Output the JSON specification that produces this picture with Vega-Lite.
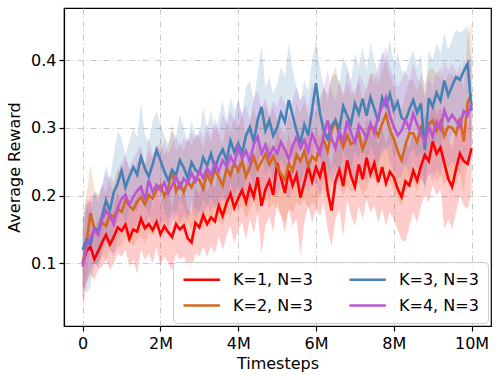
{
"$schema":"https://vega.github.io/schema/vega-lite/v6.json",
"width":427,"height":318,
"autosize":{"type":"none"},
"padding":{"left":64,"top":8,"right":8,"bottom":54},
"background":"white",
"config":{"view":{"stroke":"#000000","strokeWidth":1.2},"font":"DejaVu Sans"},
"data":{"values":[
{"s":"K=1, N=3","x":0,"y":0.100,"lo":0.035,"hi":0.125},
{"s":"K=1, N=3","x":0.1,"y":0.118,"lo":0.070,"hi":0.180},
{"s":"K=1, N=3","x":0.2,"y":0.125,"lo":0.085,"hi":0.200},
{"s":"K=1, N=3","x":0.3,"y":0.106,"lo":0.075,"hi":0.150},
{"s":"K=1, N=3","x":0.4,"y":0.118,"lo":0.090,"hi":0.165},
{"s":"K=1, N=3","x":0.5,"y":0.131,"lo":0.095,"hi":0.170},
{"s":"K=1, N=3","x":0.6,"y":0.142,"lo":0.105,"hi":0.200},
{"s":"K=1, N=3","x":0.7,"y":0.128,"lo":0.090,"hi":0.165},
{"s":"K=1, N=3","x":0.8,"y":0.139,"lo":0.100,"hi":0.185},
{"s":"K=1, N=3","x":0.9,"y":0.153,"lo":0.115,"hi":0.205},
{"s":"K=1, N=3","x":1.0,"y":0.148,"lo":0.110,"hi":0.180},
{"s":"K=1, N=3","x":1.1,"y":0.157,"lo":0.120,"hi":0.210},
{"s":"K=1, N=3","x":1.2,"y":0.136,"lo":0.095,"hi":0.175},
{"s":"K=1, N=3","x":1.3,"y":0.150,"lo":0.105,"hi":0.190},
{"s":"K=1, N=3","x":1.4,"y":0.147,"lo":0.085,"hi":0.200},
{"s":"K=1, N=3","x":1.5,"y":0.166,"lo":0.120,"hi":0.215},
{"s":"K=1, N=3","x":1.6,"y":0.152,"lo":0.105,"hi":0.195},
{"s":"K=1, N=3","x":1.7,"y":0.158,"lo":0.115,"hi":0.210},
{"s":"K=1, N=3","x":1.8,"y":0.149,"lo":0.100,"hi":0.185},
{"s":"K=1, N=3","x":1.9,"y":0.161,"lo":0.125,"hi":0.215},
{"s":"K=1, N=3","x":2.0,"y":0.143,"lo":0.095,"hi":0.190},
{"s":"K=1, N=3","x":2.1,"y":0.155,"lo":0.110,"hi":0.200},
{"s":"K=1, N=3","x":2.2,"y":0.146,"lo":0.100,"hi":0.205},
{"s":"K=1, N=3","x":2.3,"y":0.139,"lo":0.090,"hi":0.180},
{"s":"K=1, N=3","x":2.4,"y":0.158,"lo":0.115,"hi":0.215},
{"s":"K=1, N=3","x":2.5,"y":0.150,"lo":0.105,"hi":0.195},
{"s":"K=1, N=3","x":2.6,"y":0.156,"lo":0.110,"hi":0.210},
{"s":"K=1, N=3","x":2.7,"y":0.137,"lo":0.095,"hi":0.180},
{"s":"K=1, N=3","x":2.8,"y":0.131,"lo":0.085,"hi":0.175},
{"s":"K=1, N=3","x":2.9,"y":0.160,"lo":0.115,"hi":0.215},
{"s":"K=1, N=3","x":3.0,"y":0.153,"lo":0.110,"hi":0.200},
{"s":"K=1, N=3","x":3.1,"y":0.171,"lo":0.125,"hi":0.225},
{"s":"K=1, N=3","x":3.2,"y":0.158,"lo":0.110,"hi":0.205},
{"s":"K=1, N=3","x":3.3,"y":0.168,"lo":0.125,"hi":0.220},
{"s":"K=1, N=3","x":3.4,"y":0.162,"lo":0.115,"hi":0.210},
{"s":"K=1, N=3","x":3.5,"y":0.185,"lo":0.140,"hi":0.240},
{"s":"K=1, N=3","x":3.6,"y":0.170,"lo":0.120,"hi":0.220},
{"s":"K=1, N=3","x":3.7,"y":0.189,"lo":0.140,"hi":0.245},
{"s":"K=1, N=3","x":3.8,"y":0.203,"lo":0.155,"hi":0.255},
{"s":"K=1, N=3","x":3.9,"y":0.182,"lo":0.130,"hi":0.230},
{"s":"K=1, N=3","x":4.0,"y":0.196,"lo":0.150,"hi":0.250},
{"s":"K=1, N=3","x":4.1,"y":0.208,"lo":0.160,"hi":0.265},
{"s":"K=1, N=3","x":4.2,"y":0.190,"lo":0.135,"hi":0.240},
{"s":"K=1, N=3","x":4.3,"y":0.214,"lo":0.165,"hi":0.270},
{"s":"K=1, N=3","x":4.4,"y":0.198,"lo":0.145,"hi":0.245},
{"s":"K=1, N=3","x":4.5,"y":0.227,"lo":0.175,"hi":0.285},
{"s":"K=1, N=3","x":4.6,"y":0.185,"lo":0.115,"hi":0.240},
{"s":"K=1, N=3","x":4.7,"y":0.209,"lo":0.155,"hi":0.260},
{"s":"K=1, N=3","x":4.8,"y":0.222,"lo":0.170,"hi":0.280},
{"s":"K=1, N=3","x":4.9,"y":0.201,"lo":0.145,"hi":0.255},
{"s":"K=1, N=3","x":5.0,"y":0.248,"lo":0.190,"hi":0.300},
{"s":"K=1, N=3","x":5.1,"y":0.226,"lo":0.170,"hi":0.280},
{"s":"K=1, N=3","x":5.2,"y":0.204,"lo":0.145,"hi":0.260},
{"s":"K=1, N=3","x":5.3,"y":0.237,"lo":0.180,"hi":0.290},
{"s":"K=1, N=3","x":5.4,"y":0.215,"lo":0.155,"hi":0.270},
{"s":"K=1, N=3","x":5.5,"y":0.231,"lo":0.165,"hi":0.285},
{"s":"K=1, N=3","x":5.6,"y":0.197,"lo":0.112,"hi":0.250},
{"s":"K=1, N=3","x":5.7,"y":0.219,"lo":0.160,"hi":0.275},
{"s":"K=1, N=3","x":5.8,"y":0.243,"lo":0.185,"hi":0.300},
{"s":"K=1, N=3","x":5.9,"y":0.221,"lo":0.160,"hi":0.275},
{"s":"K=1, N=3","x":6.0,"y":0.242,"lo":0.180,"hi":0.300},
{"s":"K=1, N=3","x":6.1,"y":0.228,"lo":0.170,"hi":0.285},
{"s":"K=1, N=3","x":6.2,"y":0.250,"lo":0.190,"hi":0.310},
{"s":"K=1, N=3","x":6.3,"y":0.206,"lo":0.150,"hi":0.260},
{"s":"K=1, N=3","x":6.4,"y":0.178,"lo":0.125,"hi":0.240},
{"s":"K=1, N=3","x":6.5,"y":0.221,"lo":0.165,"hi":0.280},
{"s":"K=1, N=3","x":6.6,"y":0.238,"lo":0.180,"hi":0.295},
{"s":"K=1, N=3","x":6.7,"y":0.214,"lo":0.139,"hi":0.270},
{"s":"K=1, N=3","x":6.8,"y":0.252,"lo":0.195,"hi":0.310},
{"s":"K=1, N=3","x":6.9,"y":0.229,"lo":0.170,"hi":0.285},
{"s":"K=1, N=3","x":7.0,"y":0.213,"lo":0.155,"hi":0.270},
{"s":"K=1, N=3","x":7.1,"y":0.246,"lo":0.185,"hi":0.305},
{"s":"K=1, N=3","x":7.2,"y":0.224,"lo":0.165,"hi":0.280},
{"s":"K=1, N=3","x":7.3,"y":0.256,"lo":0.195,"hi":0.315},
{"s":"K=1, N=3","x":7.4,"y":0.232,"lo":0.175,"hi":0.290},
{"s":"K=1, N=3","x":7.5,"y":0.248,"lo":0.185,"hi":0.305},
{"s":"K=1, N=3","x":7.6,"y":0.220,"lo":0.160,"hi":0.275},
{"s":"K=1, N=3","x":7.7,"y":0.242,"lo":0.180,"hi":0.300},
{"s":"K=1, N=3","x":7.8,"y":0.218,"lo":0.155,"hi":0.275},
{"s":"K=1, N=3","x":7.9,"y":0.235,"lo":0.175,"hi":0.295},
{"s":"K=1, N=3","x":8.0,"y":0.227,"lo":0.165,"hi":0.285},
{"s":"K=1, N=3","x":8.1,"y":0.210,"lo":0.150,"hi":0.265},
{"s":"K=1, N=3","x":8.2,"y":0.198,"lo":0.135,"hi":0.255},
{"s":"K=1, N=3","x":8.3,"y":0.221,"lo":0.131,"hi":0.280},
{"s":"K=1, N=3","x":8.4,"y":0.215,"lo":0.155,"hi":0.270},
{"s":"K=1, N=3","x":8.5,"y":0.237,"lo":0.175,"hi":0.295},
{"s":"K=1, N=3","x":8.6,"y":0.222,"lo":0.160,"hi":0.280},
{"s":"K=1, N=3","x":8.7,"y":0.244,"lo":0.185,"hi":0.300},
{"s":"K=1, N=3","x":8.8,"y":0.260,"lo":0.200,"hi":0.320},
{"s":"K=1, N=3","x":8.9,"y":0.251,"lo":0.190,"hi":0.310},
{"s":"K=1, N=3","x":9.0,"y":0.280,"lo":0.215,"hi":0.340},
{"s":"K=1, N=3","x":9.1,"y":0.262,"lo":0.200,"hi":0.320},
{"s":"K=1, N=3","x":9.2,"y":0.271,"lo":0.210,"hi":0.330},
{"s":"K=1, N=3","x":9.3,"y":0.248,"lo":0.150,"hi":0.305},
{"s":"K=1, N=3","x":9.4,"y":0.225,"lo":0.165,"hi":0.285},
{"s":"K=1, N=3","x":9.5,"y":0.213,"lo":0.150,"hi":0.270},
{"s":"K=1, N=3","x":9.6,"y":0.239,"lo":0.175,"hi":0.300},
{"s":"K=1, N=3","x":9.7,"y":0.262,"lo":0.200,"hi":0.320},
{"s":"K=1, N=3","x":9.8,"y":0.251,"lo":0.185,"hi":0.310},
{"s":"K=1, N=3","x":9.9,"y":0.247,"lo":0.180,"hi":0.305},
{"s":"K=1, N=3","x":10.0,"y":0.270,"lo":0.205,"hi":0.330},
{"s":"K=2, N=3","x":0,"y":0.100,"lo":0.050,"hi":0.165},
{"s":"K=2, N=3","x":0.1,"y":0.130,"lo":0.080,"hi":0.200},
{"s":"K=2, N=3","x":0.2,"y":0.174,"lo":0.120,"hi":0.245},
{"s":"K=2, N=3","x":0.3,"y":0.152,"lo":0.100,"hi":0.210},
{"s":"K=2, N=3","x":0.4,"y":0.148,"lo":0.100,"hi":0.200},
{"s":"K=2, N=3","x":0.5,"y":0.160,"lo":0.110,"hi":0.215},
{"s":"K=2, N=3","x":0.6,"y":0.155,"lo":0.105,"hi":0.205},
{"s":"K=2, N=3","x":0.7,"y":0.172,"lo":0.120,"hi":0.230},
{"s":"K=2, N=3","x":0.8,"y":0.168,"lo":0.115,"hi":0.220},
{"s":"K=2, N=3","x":0.9,"y":0.180,"lo":0.125,"hi":0.240},
{"s":"K=2, N=3","x":1.0,"y":0.176,"lo":0.125,"hi":0.230},
{"s":"K=2, N=3","x":1.1,"y":0.193,"lo":0.140,"hi":0.255},
{"s":"K=2, N=3","x":1.2,"y":0.185,"lo":0.130,"hi":0.240},
{"s":"K=2, N=3","x":1.3,"y":0.179,"lo":0.125,"hi":0.235},
{"s":"K=2, N=3","x":1.4,"y":0.191,"lo":0.135,"hi":0.250},
{"s":"K=2, N=3","x":1.5,"y":0.198,"lo":0.140,"hi":0.260},
{"s":"K=2, N=3","x":1.6,"y":0.187,"lo":0.130,"hi":0.245},
{"s":"K=2, N=3","x":1.7,"y":0.201,"lo":0.145,"hi":0.265},
{"s":"K=2, N=3","x":1.8,"y":0.196,"lo":0.140,"hi":0.255},
{"s":"K=2, N=3","x":1.9,"y":0.208,"lo":0.150,"hi":0.270},
{"s":"K=2, N=3","x":2.0,"y":0.215,"lo":0.155,"hi":0.280},
{"s":"K=2, N=3","x":2.1,"y":0.199,"lo":0.140,"hi":0.260},
{"s":"K=2, N=3","x":2.2,"y":0.212,"lo":0.155,"hi":0.275},
{"s":"K=2, N=3","x":2.3,"y":0.237,"lo":0.175,"hi":0.305},
{"s":"K=2, N=3","x":2.4,"y":0.206,"lo":0.150,"hi":0.265},
{"s":"K=2, N=3","x":2.5,"y":0.218,"lo":0.160,"hi":0.280},
{"s":"K=2, N=3","x":2.6,"y":0.205,"lo":0.145,"hi":0.265},
{"s":"K=2, N=3","x":2.7,"y":0.221,"lo":0.160,"hi":0.285},
{"s":"K=2, N=3","x":2.8,"y":0.212,"lo":0.150,"hi":0.275},
{"s":"K=2, N=3","x":2.9,"y":0.226,"lo":0.165,"hi":0.290},
{"s":"K=2, N=3","x":3.0,"y":0.223,"lo":0.160,"hi":0.285},
{"s":"K=2, N=3","x":3.1,"y":0.210,"lo":0.150,"hi":0.270},
{"s":"K=2, N=3","x":3.2,"y":0.232,"lo":0.170,"hi":0.295},
{"s":"K=2, N=3","x":3.3,"y":0.219,"lo":0.155,"hi":0.280},
{"s":"K=2, N=3","x":3.4,"y":0.238,"lo":0.175,"hi":0.305},
{"s":"K=2, N=3","x":3.5,"y":0.227,"lo":0.165,"hi":0.290},
{"s":"K=2, N=3","x":3.6,"y":0.215,"lo":0.155,"hi":0.275},
{"s":"K=2, N=3","x":3.7,"y":0.241,"lo":0.175,"hi":0.310},
{"s":"K=2, N=3","x":3.8,"y":0.230,"lo":0.170,"hi":0.295},
{"s":"K=2, N=3","x":3.9,"y":0.248,"lo":0.185,"hi":0.315},
{"s":"K=2, N=3","x":4.0,"y":0.236,"lo":0.175,"hi":0.300},
{"s":"K=2, N=3","x":4.1,"y":0.251,"lo":0.185,"hi":0.320},
{"s":"K=2, N=3","x":4.2,"y":0.228,"lo":0.165,"hi":0.290},
{"s":"K=2, N=3","x":4.3,"y":0.242,"lo":0.180,"hi":0.310},
{"s":"K=2, N=3","x":4.4,"y":0.257,"lo":0.190,"hi":0.330},
{"s":"K=2, N=3","x":4.5,"y":0.239,"lo":0.175,"hi":0.305},
{"s":"K=2, N=3","x":4.6,"y":0.250,"lo":0.185,"hi":0.320},
{"s":"K=2, N=3","x":4.7,"y":0.262,"lo":0.195,"hi":0.335},
{"s":"K=2, N=3","x":4.8,"y":0.246,"lo":0.180,"hi":0.315},
{"s":"K=2, N=3","x":4.9,"y":0.258,"lo":0.190,"hi":0.330},
{"s":"K=2, N=3","x":5.0,"y":0.243,"lo":0.180,"hi":0.310},
{"s":"K=2, N=3","x":5.1,"y":0.232,"lo":0.170,"hi":0.300},
{"s":"K=2, N=3","x":5.2,"y":0.223,"lo":0.160,"hi":0.290},
{"s":"K=2, N=3","x":5.3,"y":0.248,"lo":0.180,"hi":0.320},
{"s":"K=2, N=3","x":5.4,"y":0.237,"lo":0.175,"hi":0.305},
{"s":"K=2, N=3","x":5.5,"y":0.260,"lo":0.190,"hi":0.335},
{"s":"K=2, N=3","x":5.6,"y":0.251,"lo":0.185,"hi":0.320},
{"s":"K=2, N=3","x":5.7,"y":0.266,"lo":0.195,"hi":0.340},
{"s":"K=2, N=3","x":5.8,"y":0.244,"lo":0.180,"hi":0.315},
{"s":"K=2, N=3","x":5.9,"y":0.258,"lo":0.190,"hi":0.330},
{"s":"K=2, N=3","x":6.0,"y":0.252,"lo":0.185,"hi":0.325},
{"s":"K=2, N=3","x":6.1,"y":0.270,"lo":0.200,"hi":0.345},
{"s":"K=2, N=3","x":6.2,"y":0.282,"lo":0.210,"hi":0.360},
{"s":"K=2, N=3","x":6.3,"y":0.265,"lo":0.195,"hi":0.340},
{"s":"K=2, N=3","x":6.4,"y":0.296,"lo":0.220,"hi":0.375},
{"s":"K=2, N=3","x":6.5,"y":0.311,"lo":0.235,"hi":0.390},
{"s":"K=2, N=3","x":6.6,"y":0.287,"lo":0.215,"hi":0.365},
{"s":"K=2, N=3","x":6.7,"y":0.272,"lo":0.200,"hi":0.345},
{"s":"K=2, N=3","x":6.8,"y":0.289,"lo":0.215,"hi":0.365},
{"s":"K=2, N=3","x":6.9,"y":0.276,"lo":0.205,"hi":0.350},
{"s":"K=2, N=3","x":7.0,"y":0.280,"lo":0.210,"hi":0.355},
{"s":"K=2, N=3","x":7.1,"y":0.293,"lo":0.220,"hi":0.370},
{"s":"K=2, N=3","x":7.2,"y":0.268,"lo":0.200,"hi":0.340},
{"s":"K=2, N=3","x":7.3,"y":0.285,"lo":0.210,"hi":0.360},
{"s":"K=2, N=3","x":7.4,"y":0.300,"lo":0.225,"hi":0.380},
{"s":"K=2, N=3","x":7.5,"y":0.300,"lo":0.225,"hi":0.380},
{"s":"K=2, N=3","x":7.6,"y":0.288,"lo":0.215,"hi":0.365},
{"s":"K=2, N=3","x":7.7,"y":0.306,"lo":0.230,"hi":0.385},
{"s":"K=2, N=3","x":7.8,"y":0.320,"lo":0.240,"hi":0.400},
{"s":"K=2, N=3","x":7.9,"y":0.297,"lo":0.220,"hi":0.375},
{"s":"K=2, N=3","x":8.0,"y":0.284,"lo":0.210,"hi":0.360},
{"s":"K=2, N=3","x":8.1,"y":0.266,"lo":0.195,"hi":0.340},
{"s":"K=2, N=3","x":8.2,"y":0.252,"lo":0.185,"hi":0.325},
{"s":"K=2, N=3","x":8.3,"y":0.275,"lo":0.205,"hi":0.350},
{"s":"K=2, N=3","x":8.4,"y":0.292,"lo":0.215,"hi":0.370},
{"s":"K=2, N=3","x":8.5,"y":0.292,"lo":0.220,"hi":0.370},
{"s":"K=2, N=3","x":8.6,"y":0.279,"lo":0.205,"hi":0.355},
{"s":"K=2, N=3","x":8.7,"y":0.301,"lo":0.225,"hi":0.380},
{"s":"K=2, N=3","x":8.8,"y":0.288,"lo":0.215,"hi":0.365},
{"s":"K=2, N=3","x":8.9,"y":0.305,"lo":0.230,"hi":0.385},
{"s":"K=2, N=3","x":9.0,"y":0.311,"lo":0.235,"hi":0.390},
{"s":"K=2, N=3","x":9.1,"y":0.296,"lo":0.220,"hi":0.375},
{"s":"K=2, N=3","x":9.2,"y":0.309,"lo":0.230,"hi":0.390},
{"s":"K=2, N=3","x":9.3,"y":0.288,"lo":0.215,"hi":0.365},
{"s":"K=2, N=3","x":9.4,"y":0.302,"lo":0.225,"hi":0.380},
{"s":"K=2, N=3","x":9.5,"y":0.300,"lo":0.225,"hi":0.380},
{"s":"K=2, N=3","x":9.6,"y":0.291,"lo":0.215,"hi":0.370},
{"s":"K=2, N=3","x":9.7,"y":0.314,"lo":0.235,"hi":0.395},
{"s":"K=2, N=3","x":9.8,"y":0.280,"lo":0.205,"hi":0.355},
{"s":"K=2, N=3","x":9.9,"y":0.338,"lo":0.255,"hi":0.440},
{"s":"K=2, N=3","x":10.0,"y":0.350,"lo":0.265,"hi":0.455},
{"s":"K=3, N=3","x":0,"y":0.120,"lo":0.070,"hi":0.165},
{"s":"K=3, N=3","x":0.1,"y":0.135,"lo":0.055,"hi":0.190},
{"s":"K=3, N=3","x":0.2,"y":0.128,"lo":0.065,"hi":0.175},
{"s":"K=3, N=3","x":0.3,"y":0.152,"lo":0.100,"hi":0.205},
{"s":"K=3, N=3","x":0.4,"y":0.148,"lo":0.095,"hi":0.200},
{"s":"K=3, N=3","x":0.5,"y":0.170,"lo":0.120,"hi":0.215},
{"s":"K=3, N=3","x":0.6,"y":0.193,"lo":0.140,"hi":0.245},
{"s":"K=3, N=3","x":0.7,"y":0.178,"lo":0.125,"hi":0.225},
{"s":"K=3, N=3","x":0.8,"y":0.205,"lo":0.150,"hi":0.260},
{"s":"K=3, N=3","x":0.9,"y":0.218,"lo":0.165,"hi":0.295},
{"s":"K=3, N=3","x":1.0,"y":0.237,"lo":0.180,"hi":0.285},
{"s":"K=3, N=3","x":1.1,"y":0.212,"lo":0.160,"hi":0.260},
{"s":"K=3, N=3","x":1.2,"y":0.228,"lo":0.175,"hi":0.280},
{"s":"K=3, N=3","x":1.3,"y":0.242,"lo":0.185,"hi":0.300},
{"s":"K=3, N=3","x":1.4,"y":0.231,"lo":0.175,"hi":0.285},
{"s":"K=3, N=3","x":1.5,"y":0.257,"lo":0.200,"hi":0.338},
{"s":"K=3, N=3","x":1.6,"y":0.240,"lo":0.185,"hi":0.290},
{"s":"K=3, N=3","x":1.7,"y":0.228,"lo":0.170,"hi":0.280},
{"s":"K=3, N=3","x":1.8,"y":0.246,"lo":0.190,"hi":0.310},
{"s":"K=3, N=3","x":1.9,"y":0.267,"lo":0.210,"hi":0.325},
{"s":"K=3, N=3","x":2.0,"y":0.252,"lo":0.195,"hi":0.305},
{"s":"K=3, N=3","x":2.1,"y":0.236,"lo":0.180,"hi":0.290},
{"s":"K=3, N=3","x":2.2,"y":0.222,"lo":0.165,"hi":0.275},
{"s":"K=3, N=3","x":2.3,"y":0.238,"lo":0.180,"hi":0.295},
{"s":"K=3, N=3","x":2.4,"y":0.230,"lo":0.175,"hi":0.285},
{"s":"K=3, N=3","x":2.5,"y":0.252,"lo":0.195,"hi":0.320},
{"s":"K=3, N=3","x":2.6,"y":0.241,"lo":0.185,"hi":0.300},
{"s":"K=3, N=3","x":2.7,"y":0.226,"lo":0.170,"hi":0.280},
{"s":"K=3, N=3","x":2.8,"y":0.249,"lo":0.190,"hi":0.310},
{"s":"K=3, N=3","x":2.9,"y":0.238,"lo":0.180,"hi":0.290},
{"s":"K=3, N=3","x":3.0,"y":0.233,"lo":0.175,"hi":0.290},
{"s":"K=3, N=3","x":3.1,"y":0.256,"lo":0.195,"hi":0.330},
{"s":"K=3, N=3","x":3.2,"y":0.244,"lo":0.185,"hi":0.300},
{"s":"K=3, N=3","x":3.3,"y":0.262,"lo":0.200,"hi":0.325},
{"s":"K=3, N=3","x":3.4,"y":0.240,"lo":0.180,"hi":0.295},
{"s":"K=3, N=3","x":3.5,"y":0.257,"lo":0.195,"hi":0.315},
{"s":"K=3, N=3","x":3.6,"y":0.268,"lo":0.205,"hi":0.340},
{"s":"K=3, N=3","x":3.7,"y":0.252,"lo":0.190,"hi":0.310},
{"s":"K=3, N=3","x":3.8,"y":0.281,"lo":0.220,"hi":0.345},
{"s":"K=3, N=3","x":3.9,"y":0.264,"lo":0.200,"hi":0.325},
{"s":"K=3, N=3","x":4.0,"y":0.277,"lo":0.215,"hi":0.340},
{"s":"K=3, N=3","x":4.1,"y":0.262,"lo":0.200,"hi":0.320},
{"s":"K=3, N=3","x":4.2,"y":0.289,"lo":0.225,"hi":0.360},
{"s":"K=3, N=3","x":4.3,"y":0.301,"lo":0.235,"hi":0.370},
{"s":"K=3, N=3","x":4.4,"y":0.279,"lo":0.215,"hi":0.340},
{"s":"K=3, N=3","x":4.5,"y":0.312,"lo":0.245,"hi":0.380},
{"s":"K=3, N=3","x":4.6,"y":0.331,"lo":0.265,"hi":0.420},
{"s":"K=3, N=3","x":4.7,"y":0.296,"lo":0.230,"hi":0.360},
{"s":"K=3, N=3","x":4.8,"y":0.311,"lo":0.245,"hi":0.375},
{"s":"K=3, N=3","x":4.9,"y":0.288,"lo":0.225,"hi":0.350},
{"s":"K=3, N=3","x":5.0,"y":0.300,"lo":0.235,"hi":0.365},
{"s":"K=3, N=3","x":5.1,"y":0.322,"lo":0.255,"hi":0.390},
{"s":"K=3, N=3","x":5.2,"y":0.309,"lo":0.240,"hi":0.375},
{"s":"K=3, N=3","x":5.3,"y":0.341,"lo":0.270,"hi":0.425},
{"s":"K=3, N=3","x":5.4,"y":0.318,"lo":0.250,"hi":0.385},
{"s":"K=3, N=3","x":5.5,"y":0.296,"lo":0.230,"hi":0.360},
{"s":"K=3, N=3","x":5.6,"y":0.277,"lo":0.215,"hi":0.340},
{"s":"K=3, N=3","x":5.7,"y":0.305,"lo":0.240,"hi":0.370},
{"s":"K=3, N=3","x":5.8,"y":0.289,"lo":0.225,"hi":0.355},
{"s":"K=3, N=3","x":5.9,"y":0.327,"lo":0.260,"hi":0.400},
{"s":"K=3, N=3","x":6.0,"y":0.366,"lo":0.290,"hi":0.430},
{"s":"K=3, N=3","x":6.1,"y":0.322,"lo":0.255,"hi":0.390},
{"s":"K=3, N=3","x":6.2,"y":0.296,"lo":0.230,"hi":0.360},
{"s":"K=3, N=3","x":6.3,"y":0.284,"lo":0.220,"hi":0.350},
{"s":"K=3, N=3","x":6.4,"y":0.303,"lo":0.240,"hi":0.375},
{"s":"K=3, N=3","x":6.5,"y":0.311,"lo":0.245,"hi":0.380},
{"s":"K=3, N=3","x":6.6,"y":0.298,"lo":0.235,"hi":0.365},
{"s":"K=3, N=3","x":6.7,"y":0.332,"lo":0.265,"hi":0.405},
{"s":"K=3, N=3","x":6.8,"y":0.318,"lo":0.250,"hi":0.390},
{"s":"K=3, N=3","x":6.9,"y":0.306,"lo":0.240,"hi":0.370},
{"s":"K=3, N=3","x":7.0,"y":0.336,"lo":0.265,"hi":0.410},
{"s":"K=3, N=3","x":7.1,"y":0.321,"lo":0.255,"hi":0.390},
{"s":"K=3, N=3","x":7.2,"y":0.343,"lo":0.275,"hi":0.420},
{"s":"K=3, N=3","x":7.3,"y":0.318,"lo":0.250,"hi":0.385},
{"s":"K=3, N=3","x":7.4,"y":0.345,"lo":0.275,"hi":0.425},
{"s":"K=3, N=3","x":7.5,"y":0.328,"lo":0.260,"hi":0.400},
{"s":"K=3, N=3","x":7.6,"y":0.310,"lo":0.245,"hi":0.375},
{"s":"K=3, N=3","x":7.7,"y":0.345,"lo":0.275,"hi":0.415},
{"s":"K=3, N=3","x":7.8,"y":0.332,"lo":0.265,"hi":0.400},
{"s":"K=3, N=3","x":7.9,"y":0.350,"lo":0.280,"hi":0.430},
{"s":"K=3, N=3","x":8.0,"y":0.326,"lo":0.260,"hi":0.395},
{"s":"K=3, N=3","x":8.1,"y":0.338,"lo":0.270,"hi":0.410},
{"s":"K=3, N=3","x":8.2,"y":0.315,"lo":0.250,"hi":0.385},
{"s":"K=3, N=3","x":8.3,"y":0.311,"lo":0.245,"hi":0.380},
{"s":"K=3, N=3","x":8.4,"y":0.327,"lo":0.260,"hi":0.400},
{"s":"K=3, N=3","x":8.5,"y":0.341,"lo":0.270,"hi":0.415},
{"s":"K=3, N=3","x":8.6,"y":0.322,"lo":0.255,"hi":0.390},
{"s":"K=3, N=3","x":8.7,"y":0.336,"lo":0.265,"hi":0.410},
{"s":"K=3, N=3","x":8.8,"y":0.268,"lo":0.205,"hi":0.340},
{"s":"K=3, N=3","x":8.9,"y":0.344,"lo":0.275,"hi":0.415},
{"s":"K=3, N=3","x":9.0,"y":0.331,"lo":0.265,"hi":0.400},
{"s":"K=3, N=3","x":9.1,"y":0.352,"lo":0.280,"hi":0.425},
{"s":"K=3, N=3","x":9.2,"y":0.340,"lo":0.270,"hi":0.410},
{"s":"K=3, N=3","x":9.3,"y":0.370,"lo":0.300,"hi":0.440},
{"s":"K=3, N=3","x":9.4,"y":0.348,"lo":0.280,"hi":0.415},
{"s":"K=3, N=3","x":9.5,"y":0.362,"lo":0.290,"hi":0.430},
{"s":"K=3, N=3","x":9.6,"y":0.375,"lo":0.300,"hi":0.445},
{"s":"K=3, N=3","x":9.7,"y":0.371,"lo":0.300,"hi":0.440},
{"s":"K=3, N=3","x":9.8,"y":0.384,"lo":0.310,"hi":0.445},
{"s":"K=3, N=3","x":9.9,"y":0.395,"lo":0.320,"hi":0.450},
{"s":"K=3, N=3","x":10.0,"y":0.325,"lo":0.260,"hi":0.390},
{"s":"K=4, N=3","x":0,"y":0.095,"lo":0.055,"hi":0.150},
{"s":"K=4, N=3","x":0.1,"y":0.125,"lo":0.075,"hi":0.195},
{"s":"K=4, N=3","x":0.2,"y":0.138,"lo":0.090,"hi":0.190},
{"s":"K=4, N=3","x":0.3,"y":0.150,"lo":0.100,"hi":0.205},
{"s":"K=4, N=3","x":0.4,"y":0.142,"lo":0.095,"hi":0.190},
{"s":"K=4, N=3","x":0.5,"y":0.165,"lo":0.115,"hi":0.215},
{"s":"K=4, N=3","x":0.6,"y":0.178,"lo":0.130,"hi":0.235},
{"s":"K=4, N=3","x":0.7,"y":0.170,"lo":0.120,"hi":0.220},
{"s":"K=4, N=3","x":0.8,"y":0.158,"lo":0.110,"hi":0.205},
{"s":"K=4, N=3","x":0.9,"y":0.182,"lo":0.135,"hi":0.235},
{"s":"K=4, N=3","x":1.0,"y":0.195,"lo":0.145,"hi":0.250},
{"s":"K=4, N=3","x":1.1,"y":0.201,"lo":0.150,"hi":0.260},
{"s":"K=4, N=3","x":1.2,"y":0.186,"lo":0.135,"hi":0.240},
{"s":"K=4, N=3","x":1.3,"y":0.198,"lo":0.150,"hi":0.255},
{"s":"K=4, N=3","x":1.4,"y":0.207,"lo":0.155,"hi":0.265},
{"s":"K=4, N=3","x":1.5,"y":0.213,"lo":0.160,"hi":0.275},
{"s":"K=4, N=3","x":1.6,"y":0.194,"lo":0.145,"hi":0.245},
{"s":"K=4, N=3","x":1.7,"y":0.223,"lo":0.170,"hi":0.285},
{"s":"K=4, N=3","x":1.8,"y":0.205,"lo":0.155,"hi":0.260},
{"s":"K=4, N=3","x":1.9,"y":0.216,"lo":0.165,"hi":0.275},
{"s":"K=4, N=3","x":2.0,"y":0.208,"lo":0.155,"hi":0.265},
{"s":"K=4, N=3","x":2.1,"y":0.219,"lo":0.165,"hi":0.280},
{"s":"K=4, N=3","x":2.2,"y":0.203,"lo":0.150,"hi":0.260},
{"s":"K=4, N=3","x":2.3,"y":0.215,"lo":0.160,"hi":0.275},
{"s":"K=4, N=3","x":2.4,"y":0.228,"lo":0.175,"hi":0.290},
{"s":"K=4, N=3","x":2.5,"y":0.212,"lo":0.160,"hi":0.270},
{"s":"K=4, N=3","x":2.6,"y":0.225,"lo":0.170,"hi":0.285},
{"s":"K=4, N=3","x":2.7,"y":0.218,"lo":0.165,"hi":0.280},
{"s":"K=4, N=3","x":2.8,"y":0.233,"lo":0.180,"hi":0.295},
{"s":"K=4, N=3","x":2.9,"y":0.221,"lo":0.165,"hi":0.280},
{"s":"K=4, N=3","x":3.0,"y":0.237,"lo":0.180,"hi":0.300},
{"s":"K=4, N=3","x":3.1,"y":0.226,"lo":0.170,"hi":0.285},
{"s":"K=4, N=3","x":3.2,"y":0.241,"lo":0.185,"hi":0.305},
{"s":"K=4, N=3","x":3.3,"y":0.230,"lo":0.175,"hi":0.290},
{"s":"K=4, N=3","x":3.4,"y":0.248,"lo":0.190,"hi":0.315},
{"s":"K=4, N=3","x":3.5,"y":0.236,"lo":0.180,"hi":0.295},
{"s":"K=4, N=3","x":3.6,"y":0.252,"lo":0.195,"hi":0.320},
{"s":"K=4, N=3","x":3.7,"y":0.243,"lo":0.185,"hi":0.305},
{"s":"K=4, N=3","x":3.8,"y":0.258,"lo":0.200,"hi":0.325},
{"s":"K=4, N=3","x":3.9,"y":0.247,"lo":0.190,"hi":0.310},
{"s":"K=4, N=3","x":4.0,"y":0.272,"lo":0.210,"hi":0.340},
{"s":"K=4, N=3","x":4.1,"y":0.255,"lo":0.195,"hi":0.320},
{"s":"K=4, N=3","x":4.2,"y":0.266,"lo":0.205,"hi":0.335},
{"s":"K=4, N=3","x":4.3,"y":0.249,"lo":0.190,"hi":0.310},
{"s":"K=4, N=3","x":4.4,"y":0.276,"lo":0.215,"hi":0.345},
{"s":"K=4, N=3","x":4.5,"y":0.287,"lo":0.225,"hi":0.355},
{"s":"K=4, N=3","x":4.6,"y":0.262,"lo":0.200,"hi":0.330},
{"s":"K=4, N=3","x":4.7,"y":0.275,"lo":0.210,"hi":0.345},
{"s":"K=4, N=3","x":4.8,"y":0.258,"lo":0.195,"hi":0.320},
{"s":"K=4, N=3","x":4.9,"y":0.271,"lo":0.210,"hi":0.340},
{"s":"K=4, N=3","x":5.0,"y":0.262,"lo":0.200,"hi":0.330},
{"s":"K=4, N=3","x":5.1,"y":0.279,"lo":0.215,"hi":0.350},
{"s":"K=4, N=3","x":5.2,"y":0.268,"lo":0.205,"hi":0.335},
{"s":"K=4, N=3","x":5.3,"y":0.254,"lo":0.195,"hi":0.320},
{"s":"K=4, N=3","x":5.4,"y":0.273,"lo":0.210,"hi":0.340},
{"s":"K=4, N=3","x":5.5,"y":0.287,"lo":0.225,"hi":0.360},
{"s":"K=4, N=3","x":5.6,"y":0.270,"lo":0.205,"hi":0.340},
{"s":"K=4, N=3","x":5.7,"y":0.282,"lo":0.220,"hi":0.350},
{"s":"K=4, N=3","x":5.8,"y":0.265,"lo":0.205,"hi":0.330},
{"s":"K=4, N=3","x":5.9,"y":0.291,"lo":0.225,"hi":0.365},
{"s":"K=4, N=3","x":6.0,"y":0.277,"lo":0.215,"hi":0.345},
{"s":"K=4, N=3","x":6.1,"y":0.262,"lo":0.200,"hi":0.330},
{"s":"K=4, N=3","x":6.2,"y":0.289,"lo":0.225,"hi":0.360},
{"s":"K=4, N=3","x":6.3,"y":0.311,"lo":0.245,"hi":0.385},
{"s":"K=4, N=3","x":6.4,"y":0.284,"lo":0.220,"hi":0.355},
{"s":"K=4, N=3","x":6.5,"y":0.270,"lo":0.205,"hi":0.340},
{"s":"K=4, N=3","x":6.6,"y":0.295,"lo":0.230,"hi":0.370},
{"s":"K=4, N=3","x":6.7,"y":0.281,"lo":0.215,"hi":0.350},
{"s":"K=4, N=3","x":6.8,"y":0.311,"lo":0.245,"hi":0.385},
{"s":"K=4, N=3","x":6.9,"y":0.293,"lo":0.230,"hi":0.365},
{"s":"K=4, N=3","x":7.0,"y":0.278,"lo":0.215,"hi":0.345},
{"s":"K=4, N=3","x":7.1,"y":0.304,"lo":0.240,"hi":0.380},
{"s":"K=4, N=3","x":7.2,"y":0.296,"lo":0.230,"hi":0.370},
{"s":"K=4, N=3","x":7.3,"y":0.285,"lo":0.220,"hi":0.355},
{"s":"K=4, N=3","x":7.4,"y":0.307,"lo":0.240,"hi":0.380},
{"s":"K=4, N=3","x":7.5,"y":0.292,"lo":0.225,"hi":0.365},
{"s":"K=4, N=3","x":7.6,"y":0.318,"lo":0.250,"hi":0.395},
{"s":"K=4, N=3","x":7.7,"y":0.331,"lo":0.260,"hi":0.405},
{"s":"K=4, N=3","x":7.8,"y":0.345,"lo":0.275,"hi":0.420},
{"s":"K=4, N=3","x":7.9,"y":0.318,"lo":0.250,"hi":0.390},
{"s":"K=4, N=3","x":8.0,"y":0.302,"lo":0.235,"hi":0.375},
{"s":"K=4, N=3","x":8.1,"y":0.289,"lo":0.225,"hi":0.360},
{"s":"K=4, N=3","x":8.2,"y":0.296,"lo":0.230,"hi":0.370},
{"s":"K=4, N=3","x":8.3,"y":0.312,"lo":0.245,"hi":0.385},
{"s":"K=4, N=3","x":8.4,"y":0.298,"lo":0.230,"hi":0.370},
{"s":"K=4, N=3","x":8.5,"y":0.321,"lo":0.250,"hi":0.395},
{"s":"K=4, N=3","x":8.6,"y":0.305,"lo":0.240,"hi":0.375},
{"s":"K=4, N=3","x":8.7,"y":0.292,"lo":0.225,"hi":0.365},
{"s":"K=4, N=3","x":8.8,"y":0.279,"lo":0.215,"hi":0.350},
{"s":"K=4, N=3","x":8.9,"y":0.301,"lo":0.235,"hi":0.375},
{"s":"K=4, N=3","x":9.0,"y":0.287,"lo":0.220,"hi":0.360},
{"s":"K=4, N=3","x":9.1,"y":0.309,"lo":0.240,"hi":0.385},
{"s":"K=4, N=3","x":9.2,"y":0.298,"lo":0.230,"hi":0.370},
{"s":"K=4, N=3","x":9.3,"y":0.326,"lo":0.255,"hi":0.400},
{"s":"K=4, N=3","x":9.4,"y":0.310,"lo":0.240,"hi":0.385},
{"s":"K=4, N=3","x":9.5,"y":0.319,"lo":0.250,"hi":0.395},
{"s":"K=4, N=3","x":9.6,"y":0.311,"lo":0.240,"hi":0.385},
{"s":"K=4, N=3","x":9.7,"y":0.302,"lo":0.235,"hi":0.375},
{"s":"K=4, N=3","x":9.8,"y":0.325,"lo":0.255,"hi":0.400},
{"s":"K=4, N=3","x":9.9,"y":0.318,"lo":0.250,"hi":0.390},
{"s":"K=4, N=3","x":10.0,"y":0.336,"lo":0.265,"hi":0.410}
]},
"encoding":{
"x":{"field":"x","type":"quantitative","scale":{"domain":[-0.48,10.5],"nice":false,"zero":false},
"axis":{"title":"Timesteps","values":[0,2,4,6,8,10],"labelExpr":"datum.value == 0 ? '0' : datum.value + 'M'",
"labelFont":"DejaVu Sans","labelFontSize":16,"labelColor":"#000000","labelPadding":4,
"titleFont":"DejaVu Sans","titleFontSize":16,"titleFontWeight":"normal","titleColor":"#000000","titlePadding":4,
"domainColor":"#000000","domainWidth":1.2,"tickColor":"#000000","tickSize":5,"tickWidth":1.2,
"grid":true,"gridColor":"#c8c8c8","gridDash":[6,3,1,3],"gridWidth":1}},
"color":{"field":"s","type":"nominal",
"scale":{"domain":["K=1, N=3","K=2, N=3","K=3, N=3","K=4, N=3"],"range":["#ff0000","#d2691e","#4682b4","#ba55d3"]},
"legend":{"title":null,"orient":"none","legendX":109,"legendY":254,"columns":2,"columnPadding":31,"rowPadding":9,
"symbolType":"M-1,0H4.2","symbolSize":196,"symbolStrokeWidth":2.6,"symbolOpacity":1,
"labelFont":"DejaVu Sans","labelFontSize":16,"labelColor":"#000000","labelOffset":34,
"padding":9,"fillColor":"rgba(255,255,255,0.8)","strokeColor":"#cccccc","cornerRadius":4}}
},
"layer":[
{"mark":{"type":"area","fillOpacity":0.2,"clip":true},
"encoding":{"y":{"field":"lo","type":"quantitative","scale":{"domain":[0.0075,0.477],"nice":false,"zero":false},
"axis":{"title":"Average Reward","values":[0.1,0.2,0.3,0.4],"format":".1f",
"labelFont":"DejaVu Sans","labelFontSize":16,"labelColor":"#000000","labelPadding":3,
"titleFont":"DejaVu Sans","titleFontSize":16,"titleFontWeight":"normal","titleColor":"#000000","titlePadding":8,
"domainColor":"#000000","domainWidth":1.2,"tickColor":"#000000","tickSize":5,"tickWidth":1.2,
"grid":true,"gridColor":"#c8c8c8","gridDash":[6,3,1,3],"gridWidth":1}},
"y2":{"field":"hi"}}},
{"mark":{"type":"line","strokeWidth":2.6,"clip":true},
"encoding":{"y":{"field":"y","type":"quantitative"}}}
]
}
